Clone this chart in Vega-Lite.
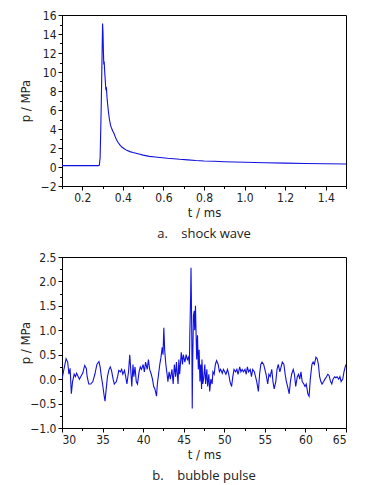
{
  "$schema": "https://vega.github.io/schema/vega-lite/v6.json",
  "padding": {"left": 18, "top": 8, "right": 15, "bottom": 0},
  "background": "white",
  "spacing": 8,
  "datasets": {
    "shock": [
      {"t": 0.1, "p": 0.15}, {"t": 0.15, "p": 0.15}, {"t": 0.2, "p": 0.15}, {"t": 0.25, "p": 0.15},
      {"t": 0.28, "p": 0.15}, {"t": 0.284, "p": 0.2}, {"t": 0.288, "p": 1.0}, {"t": 0.293, "p": 6.0},
      {"t": 0.297, "p": 11.0}, {"t": 0.3, "p": 15.1}, {"t": 0.302, "p": 14.2}, {"t": 0.304, "p": 12.3},
      {"t": 0.306, "p": 10.8}, {"t": 0.308, "p": 11.1}, {"t": 0.31, "p": 10.2}, {"t": 0.313, "p": 9.2},
      {"t": 0.316, "p": 8.2}, {"t": 0.319, "p": 8.3}, {"t": 0.322, "p": 7.3}, {"t": 0.326, "p": 6.4},
      {"t": 0.33, "p": 5.6}, {"t": 0.334, "p": 5.0}, {"t": 0.339, "p": 4.4}, {"t": 0.344, "p": 4.1},
      {"t": 0.35, "p": 3.8}, {"t": 0.356, "p": 3.55}, {"t": 0.362, "p": 3.2}, {"t": 0.368, "p": 2.9},
      {"t": 0.376, "p": 2.6}, {"t": 0.386, "p": 2.3}, {"t": 0.395, "p": 2.1}, {"t": 0.405, "p": 1.95},
      {"t": 0.419, "p": 1.75}, {"t": 0.435, "p": 1.62}, {"t": 0.45, "p": 1.52}, {"t": 0.465, "p": 1.45},
      {"t": 0.484, "p": 1.35}, {"t": 0.5, "p": 1.25}, {"t": 0.53, "p": 1.12}, {"t": 0.56, "p": 1.05},
      {"t": 0.583, "p": 1.0}, {"t": 0.62, "p": 0.92}, {"t": 0.65, "p": 0.87}, {"t": 0.68, "p": 0.81},
      {"t": 0.72, "p": 0.75}, {"t": 0.76, "p": 0.68}, {"t": 0.8, "p": 0.63}, {"t": 0.85, "p": 0.6},
      {"t": 0.9, "p": 0.56}, {"t": 0.95, "p": 0.53}, {"t": 1.0, "p": 0.5}, {"t": 1.1, "p": 0.45},
      {"t": 1.2, "p": 0.41}, {"t": 1.3, "p": 0.37}, {"t": 1.4, "p": 0.34}, {"t": 1.5, "p": 0.31}
    ],
    "bubble": [
      {"t": 30.0, "p": 0.0}, {"t": 30.5, "p": 0.42}, {"t": 30.7, "p": 0.35}, {"t": 30.85, "p": 0.1},
      {"t": 31.0, "p": 0.22}, {"t": 31.15, "p": -0.3}, {"t": 31.3, "p": -0.05}, {"t": 31.5, "p": 0.1},
      {"t": 31.65, "p": 0.05}, {"t": 31.8, "p": 0.12}, {"t": 32.0, "p": 0.05}, {"t": 32.15, "p": 0.0},
      {"t": 32.3, "p": 0.05}, {"t": 32.55, "p": 0.12}, {"t": 32.8, "p": 0.28}, {"t": 33.0, "p": 0.22},
      {"t": 33.1, "p": 0.05}, {"t": 33.3, "p": -0.1}, {"t": 33.55, "p": -0.1}, {"t": 33.8, "p": -0.05},
      {"t": 34.05, "p": 0.1}, {"t": 34.3, "p": 0.3}, {"t": 34.55, "p": 0.36}, {"t": 34.7, "p": 0.25},
      {"t": 34.85, "p": 0.05}, {"t": 35.0, "p": -0.1}, {"t": 35.2, "p": -0.35}, {"t": 35.3, "p": -0.45},
      {"t": 35.45, "p": -0.2}, {"t": 35.6, "p": 0.05}, {"t": 35.8, "p": 0.2}, {"t": 35.95, "p": 0.25},
      {"t": 36.1, "p": 0.18}, {"t": 36.3, "p": 0.0}, {"t": 36.45, "p": -0.1}, {"t": 36.7, "p": -0.05},
      {"t": 36.85, "p": 0.05}, {"t": 37.0, "p": 0.18}, {"t": 37.2, "p": 0.15}, {"t": 37.35, "p": 0.2},
      {"t": 37.5, "p": 0.1}, {"t": 37.7, "p": 0.18}, {"t": 37.85, "p": 0.05}, {"t": 38.0, "p": -0.1},
      {"t": 38.2, "p": 0.15}, {"t": 38.35, "p": 0.5}, {"t": 38.45, "p": 0.25}, {"t": 38.6, "p": -0.15},
      {"t": 38.75, "p": 0.3}, {"t": 38.85, "p": 0.05}, {"t": 39.0, "p": 0.25}, {"t": 39.15, "p": -0.05},
      {"t": 39.3, "p": -0.1}, {"t": 39.5, "p": 0.15}, {"t": 39.65, "p": 0.25}, {"t": 39.8, "p": 0.2},
      {"t": 40.0, "p": 0.3}, {"t": 40.15, "p": 0.15}, {"t": 40.3, "p": 0.35}, {"t": 40.5, "p": 0.2},
      {"t": 40.65, "p": 0.4}, {"t": 40.8, "p": 0.2}, {"t": 41.0, "p": 0.1}, {"t": 41.15, "p": 0.0},
      {"t": 41.3, "p": -0.15}, {"t": 41.45, "p": -0.2}, {"t": 41.65, "p": -0.35}, {"t": 41.75, "p": -0.1},
      {"t": 41.9, "p": 0.1}, {"t": 42.05, "p": 0.3}, {"t": 42.2, "p": 0.45}, {"t": 42.35, "p": 0.65},
      {"t": 42.45, "p": 0.5}, {"t": 42.55, "p": 1.05}, {"t": 42.65, "p": 0.6}, {"t": 42.8, "p": 0.3},
      {"t": 42.95, "p": 0.1}, {"t": 43.05, "p": -0.05}, {"t": 43.2, "p": 0.15}, {"t": 43.35, "p": 0.0},
      {"t": 43.55, "p": 0.2}, {"t": 43.7, "p": -0.1}, {"t": 43.85, "p": 0.3}, {"t": 44.0, "p": 0.05},
      {"t": 44.1, "p": 0.35}, {"t": 44.3, "p": -0.1}, {"t": 44.4, "p": 0.4}, {"t": 44.5, "p": 0.1},
      {"t": 44.7, "p": 0.55}, {"t": 44.85, "p": 0.3}, {"t": 44.95, "p": 0.5}, {"t": 45.15, "p": 0.35},
      {"t": 45.3, "p": 0.5}, {"t": 45.45, "p": 0.4}, {"t": 45.6, "p": 0.45}, {"t": 45.7, "p": 0.3},
      {"t": 45.75, "p": 0.9}, {"t": 45.85, "p": 1.7}, {"t": 45.9, "p": 2.28}, {"t": 46.0, "p": 0.8},
      {"t": 46.05, "p": -0.6}, {"t": 46.1, "p": 0.3}, {"t": 46.2, "p": 1.3}, {"t": 46.3, "p": 1.4},
      {"t": 46.35, "p": 1.0}, {"t": 46.45, "p": 1.5}, {"t": 46.5, "p": 1.1}, {"t": 46.6, "p": 0.4},
      {"t": 46.7, "p": 0.9}, {"t": 46.8, "p": 0.2}, {"t": 46.9, "p": 0.6}, {"t": 47.0, "p": -0.05},
      {"t": 47.1, "p": 0.3}, {"t": 47.2, "p": -0.2}, {"t": 47.25, "p": 0.4}, {"t": 47.35, "p": -0.1},
      {"t": 47.45, "p": 0.0}, {"t": 47.6, "p": 0.3}, {"t": 47.7, "p": -0.1}, {"t": 47.85, "p": 0.2},
      {"t": 47.95, "p": -0.15}, {"t": 48.1, "p": 0.1}, {"t": 48.2, "p": -0.25}, {"t": 48.35, "p": 0.0},
      {"t": 48.5, "p": -0.1}, {"t": 48.6, "p": 0.15}, {"t": 48.75, "p": 0.1}, {"t": 48.9, "p": 0.3},
      {"t": 49.05, "p": 0.38}, {"t": 49.25, "p": 0.3}, {"t": 49.4, "p": 0.15}, {"t": 49.55, "p": 0.2},
      {"t": 49.75, "p": 0.12}, {"t": 49.9, "p": 0.2}, {"t": 50.05, "p": 0.15}, {"t": 50.2, "p": 0.1},
      {"t": 50.4, "p": 0.2}, {"t": 50.55, "p": 0.1}, {"t": 50.7, "p": -0.05}, {"t": 50.9, "p": -0.15},
      {"t": 51.05, "p": 0.05}, {"t": 51.2, "p": 0.2}, {"t": 51.4, "p": 0.15}, {"t": 51.55, "p": 0.2},
      {"t": 51.7, "p": 0.1}, {"t": 51.9, "p": 0.25}, {"t": 52.05, "p": 0.15}, {"t": 52.2, "p": 0.2},
      {"t": 52.35, "p": 0.15}, {"t": 52.55, "p": 0.2}, {"t": 52.7, "p": 0.1}, {"t": 52.85, "p": 0.25},
      {"t": 53.0, "p": 0.15}, {"t": 53.2, "p": 0.2}, {"t": 53.35, "p": 0.05}, {"t": 53.5, "p": 0.2},
      {"t": 53.7, "p": 0.15}, {"t": 53.85, "p": 0.05}, {"t": 54.0, "p": -0.05}, {"t": 54.2, "p": -0.25},
      {"t": 54.35, "p": 0.1}, {"t": 54.5, "p": 0.3}, {"t": 54.65, "p": 0.35}, {"t": 54.85, "p": 0.3},
      {"t": 55.0, "p": 0.2}, {"t": 55.15, "p": 0.1}, {"t": 55.35, "p": -0.1}, {"t": 55.5, "p": 0.1},
      {"t": 55.65, "p": 0.05}, {"t": 55.85, "p": 0.2}, {"t": 56.0, "p": -0.05}, {"t": 56.15, "p": -0.2},
      {"t": 56.35, "p": -0.05}, {"t": 56.5, "p": 0.2}, {"t": 56.65, "p": 0.3}, {"t": 56.85, "p": 0.15},
      {"t": 57.0, "p": 0.25}, {"t": 57.15, "p": 0.35}, {"t": 57.35, "p": 0.3}, {"t": 57.5, "p": 0.1},
      {"t": 57.65, "p": -0.05}, {"t": 57.8, "p": -0.15}, {"t": 58.0, "p": -0.3}, {"t": 58.15, "p": -0.05},
      {"t": 58.3, "p": 0.1}, {"t": 58.5, "p": 0.2}, {"t": 58.65, "p": 0.1}, {"t": 58.8, "p": -0.15},
      {"t": 59.0, "p": 0.05}, {"t": 59.15, "p": 0.1}, {"t": 59.3, "p": 0.0}, {"t": 59.45, "p": 0.15},
      {"t": 59.6, "p": -0.05}, {"t": 59.8, "p": -0.1}, {"t": 59.95, "p": -0.15}, {"t": 60.1, "p": -0.1},
      {"t": 60.3, "p": -0.3}, {"t": 60.45, "p": -0.35}, {"t": 60.6, "p": 0.0}, {"t": 60.8, "p": 0.3},
      {"t": 60.95, "p": 0.35}, {"t": 61.1, "p": 0.3}, {"t": 61.3, "p": 0.45}, {"t": 61.45, "p": 0.42},
      {"t": 61.6, "p": 0.3}, {"t": 61.75, "p": 0.05}, {"t": 61.9, "p": -0.05}, {"t": 62.05, "p": -0.1},
      {"t": 62.25, "p": -0.05}, {"t": 62.4, "p": 0.0}, {"t": 62.6, "p": 0.05}, {"t": 62.75, "p": 0.1},
      {"t": 62.9, "p": 0.08}, {"t": 63.1, "p": -0.05}, {"t": 63.25, "p": -0.1}, {"t": 63.4, "p": 0.0},
      {"t": 63.6, "p": 0.05}, {"t": 63.75, "p": 0.03}, {"t": 63.9, "p": 0.05}, {"t": 64.1, "p": 0.0},
      {"t": 64.25, "p": 0.05}, {"t": 64.4, "p": -0.05}, {"t": 64.6, "p": 0.0}, {"t": 64.75, "p": 0.15},
      {"t": 64.9, "p": 0.25}, {"t": 65.0, "p": 0.3}
    ]
  },
  "vconcat": [
    {
      "width": 284,
      "height": 171,
      "title": {"text": "a.\u00a0\u00a0\u00a0 shock wave"},
      "data": {"name": "shock"},
      "mark": {"type": "line", "color": "#1010e0", "strokeWidth": 1.1, "clip": true},
      "encoding": {
        "x": {
          "field": "t", "type": "quantitative", "title": "t / ms",
          "scale": {"domain": [0.1, 1.5], "nice": false, "zero": false},
          "axis": {
            "values": [0.1, 0.2, 0.3, 0.4, 0.5, 0.6, 0.7, 0.8, 0.9, 1.0, 1.1, 1.2, 1.3, 1.4, 1.5],
            "format": ".1f",
            "titlePadding": 3,
            "labelExpr": "round(datum.value*10) % 2 == 0 ? datum.label : ''",
            "tickSize": {"condition": {"test": "round(datum.value*10) % 2 == 0", "value": 4}, "value": 2.5}
          }
        },
        "y": {
          "field": "p", "type": "quantitative", "title": "p / MPa",
          "scale": {"domain": [-2, 16], "nice": false, "zero": false},
          "axis": {
            "values": [-2, -1, 0, 1, 2, 3, 4, 5, 6, 7, 8, 9, 10, 11, 12, 13, 14, 15, 16],
            "format": "d",
            "titleX": -30,
            "labelExpr": "abs(datum.value) % 2 == 0 ? datum.label : ''",
            "tickSize": {"condition": {"test": "abs(datum.value) % 2 == 0", "value": 4}, "value": 2.5}
          }
        }
      }
    },
    {
      "width": 284,
      "height": 171,
      "title": {"text": "b.\u00a0\u00a0\u00a0 bubble pulse"},
      "data": {"name": "bubble"},
      "mark": {"type": "line", "color": "#1010e0", "strokeWidth": 1.1, "clip": true},
      "encoding": {
        "x": {
          "field": "t", "type": "quantitative", "title": "t / ms",
          "scale": {"domain": [30, 65], "nice": false, "zero": false},
          "axis": {
            "values": [30, 32.5, 35, 37.5, 40, 42.5, 45, 47.5, 50, 52.5, 55, 57.5, 60, 62.5, 65],
            "format": "d",
            "titlePadding": 3,
            "labelExpr": "datum.value % 5 == 0 ? datum.label : ''",
            "tickSize": {"condition": {"test": "datum.value % 5 == 0", "value": 4}, "value": 2.5}
          }
        },
        "y": {
          "field": "p", "type": "quantitative", "title": "p / MPa",
          "scale": {"domain": [-1, 2.5], "nice": false, "zero": false},
          "axis": {
            "values": [-1, -0.75, -0.5, -0.25, 0, 0.25, 0.5, 0.75, 1, 1.25, 1.5, 1.75, 2, 2.25, 2.5],
            "format": ".1f",
            "titleX": -30,
            "labelExpr": "abs(round(datum.value*4)) % 2 == 0 ? datum.label : ''",
            "tickSize": {"condition": {"test": "abs(round(datum.value*4)) % 2 == 0", "value": 4}, "value": 2.5}
          }
        }
      }
    }
  ],
  "config": {
    "view": {"stroke": "black", "strokeWidth": 1},
    "axis": {
      "domainColor": "black", "tickColor": "black", "grid": false,
      "labelFont": "'Liberation Sans Narrow', 'DejaVu Sans Condensed', 'Liberation Sans', sans-serif", "labelFontSize": 12, "labelColor": "#222",
      "titleFont": "'Liberation Sans Narrow', 'DejaVu Sans Condensed', 'Liberation Sans', sans-serif", "titleFontSize": 13, "titleFontWeight": "normal", "titleColor": "#222",
      "labelPadding": 2, "titlePadding": 1
    },
    "title": {"orient": "bottom", "anchor": "middle", "font": "Open Sans", "fontSize": 13, "fontWeight": "normal", "color": "#222", "offset": 9}
  }
}
